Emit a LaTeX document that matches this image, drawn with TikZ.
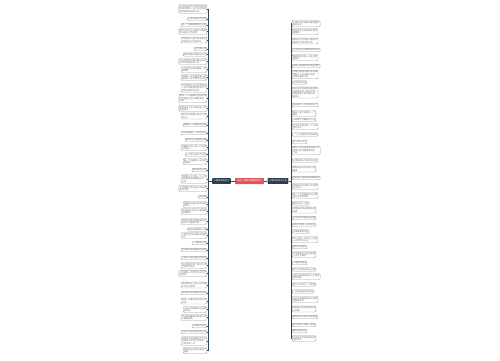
\documentclass[tikz,border=0pt]{standalone}
\usepackage{fontspec}
\newfontfamily\cjk{Noto Sans CJK SC}
\usetikzlibrary{positioning}

\definecolor{rootred}{HTML}{E0565F}
\definecolor{branchnavy}{HTML}{2C3B4D}
\definecolor{linknavy}{HTML}{34465A}

\tikzset{
  root/.style={fill=rootred, text=white, font=\cjk\fontsize{2.4}{2.8}\selectfont,
    minimum height=6pt, inner xsep=2.4pt, inner ysep=0pt, rounded corners=0.6pt},
  branch/.style={fill=branchnavy, text=white, font=\cjk\fontsize{2.2}{2.6}\selectfont,
    minimum height=5.6pt, inner xsep=1.6pt, inner ysep=0pt, rounded corners=0.6pt},
  leaf/.style={draw=gray!75, fill=white, line width=0.4pt, rounded corners=1pt,
    text=black!55, font=\cjk\fontsize{2.2}{2.5}\selectfont, align=left,
    inner xsep=0.8pt, inner ysep=0.7pt},
  leafL/.style={leaf, anchor=east},
  leafR/.style={leaf, anchor=west},
  link/.style={draw=linknavy, line width=0.6pt},
}

\begin{document}
\begin{tikzpicture}[x=1pt, y=-1pt]
\useasboundingbox (0,0) rectangle (500,360);

\node[root] (root) at (249.5,181) {关于心情的说说短句子};
\node[branch] (lb) at (221.5,181) {心情说说短句子};
\node[branch] (rb) at (278,181) {心情说说句子大全};

\draw[link] (root.west) -- (lb.east);
\draw[link] (root.east) -- (rb.west);

\coordinate (lj) at (208,181);
\coordinate (rj) at (291,181);
\draw[link] (lb.west) -- (lj);
\draw[link] (rb.east) -- (rj);

% left leaves
\foreach \y/\t [count=\i] in {
  9/{生活总是这样不经意间给你\\惊喜也给你一些小小的失落\\愿你被世界温柔以待},
  19/{心若向阳无畏悲伤},
  25/{每一个清晨都是新的开始},
  31.5/{把平凡的日子过得热气腾腾\\不忘初心方得始终},
  40/{所有的努力都不会被辜负\\风雨过后总会有彩虹},
  49/{岁月静好啊},
  54.5/{陪伴是最长情的告白呀},
  61.5/{时光匆匆而过我们都在成长\\学会珍惜眼前的一切},
  69.5/{人生没有白走的路每一步\\都算数},
  77.5/{温柔的人总会被温柔以待\\善良的人运气都不会太差},
  88/{有些事情不必太在意看淡\\一点心情就会好很多别让\\烦恼占据你的生活},
  98.5/{喜欢一个人是藏不住的即使\\捂住嘴巴也会从眼睛里跑\\出来},
  108.5/{愿你走出半生归来仍是少年\\眼里有光},
  116/{星光不问赶路人时光不负\\有心人},
  125/{慢慢来一切都来得及的},
  133/{今天也要做一个快乐的人},
  140/{简单的生活就是幸福},
  147.5/{不要因为别人的一句话就\\否定自己},
  154.5/{心中有光自然不怕黑},
  161.5/{做一个温暖的人浅浅笑\\轻轻爱},
  170/{晚安祝你好梦},
  179/{世界那么大总有一个人在\\等你别着急慢慢走好好\\生活},
  188.5/{生活明朗万物可爱人间值得\\未来可期},
  197/{加油鸭},
  204.5/{你要悄悄拔尖然后惊艳\\所有人},
  211.5/{日子是自己的开心最重要\\其他随缘},
  221.5/{愿所有的美好都如期而至\\愿你三冬暖春不寒},
  229.5/{保持热爱奔赴山海},
  235.5/{心情不好的时候就去看看\\天空},
  243/{一切都会好的},
  250/{有时候沉默是最好的回答},
  258/{忙碌日子里也要记得微笑},
  265.5/{别让情绪控制了你的生活\\学会调节自己},
  273.5/{人生就像一场旅行不必在乎\\目的地},
  285/{我们都是平凡的人却有着\\不平凡的梦想},
  293/{快乐其实很简单知足常乐},
  301/{把每一天都当作礼物好好\\珍惜},
  309.5/{心有山海静而无边温柔\\且坚定},
  317.5/{走过的路都是风景遇见的\\人都是故事},
  326/{平安喜乐就好},
  332/{生活不止眼前的苟且还有},
  341/{诗和远方的田野你赤手空\\拳来到人世间为找到那\\片海不顾一切},
  350.5/{有梦就去追吧不要留下\\遗憾}} {
  \node[leafL] (l\i) at (207,\y) {\t};
  \draw[link] (lj) |- (l\i.east);
}

% right leaves
\foreach \y/\t [count=\i] in {
  23.5/{心情好的时候连风都是甜的\\阳光正好},
  31.5/{时间会告诉你答案不要急\\慢慢等},
  41/{愿你的生活常温不被寒冷\\侵袭也不被炙热灼伤},
  50/{今天的你也很棒哦继续加油},
  57.5/{用微笑面对每一天生活会\\更美好},
  66/{只要心是晴的世界就是晴的},
  74.5/{不要总是回头看过去的事\\情就让它过去吧向前走\\才是正确的方向},
  82.5/{心安即是归处},
  92.5/{有时候觉得很累但是想想\\身边爱你的人就会觉得一\\切都值得了所以要好好\\爱自己},
  105/{每天进步一点点就很好了},
  113.5/{春风十里不如你的一个\\微笑},
  120/{人间烟火气最抚凡人心},
  126.5/{生活不会辜负每一个认真\\努力的人},
  134.5/{一个人也要好好吃饭睡觉},
  142/{笑一笑十年少},
  150.5/{成年人的世界没有容易二字\\但我们依然要勇敢地走\\下去},
  160.5/{心情就像天气有晴也有雨},
  169/{愿你遍历山河觉得人间\\值得},
  178/{你若盛开清风自来蝴蝶自来},
  186.5/{不要把时间浪费在不值得\\的人身上},
  195.5/{每一个不曾起舞的日子都\\是对生命的辜负},
  203.5/{做自己的小太阳},
  210/{往事随风而去前路依旧\\光明},
  218/{心怀感恩所遇皆是温柔},
  225/{好的心情是一天的开始},
  231.5/{凡事都要看开些},
  239.5/{开心也是一天不开心也是\\一天何不开心过},
  247/{愿你平安喜乐},
  254.5/{生活需要仪式感也需要\\一点点小确幸},
  263/{一路繁花相送},
  269.5/{努力成为更好的自己吧},
  276.5/{山有顶峰湖有彼岸人生漫漫\\终有回转},
  284.5/{别忘了给自己一个拥抱},
  291.5/{一切都是最好的安排},
  299.5/{心若没有栖息的地方到哪\\里都是流浪},
  309/{你的善良终将照亮你的\\人生路},
  317/{愿你眼中总有光芒和希望},
  325/{累了就停下来歇一歇吧},
  331/{晚风温柔如你},
  338.5/{生活原本沉闷但跑起来\\就会有风}} {
  \node[leafR] (r\i) at (292,\y) {\t};
  \draw[link] (rj) |- (r\i.west);
}

\end{tikzpicture}
\end{document}
